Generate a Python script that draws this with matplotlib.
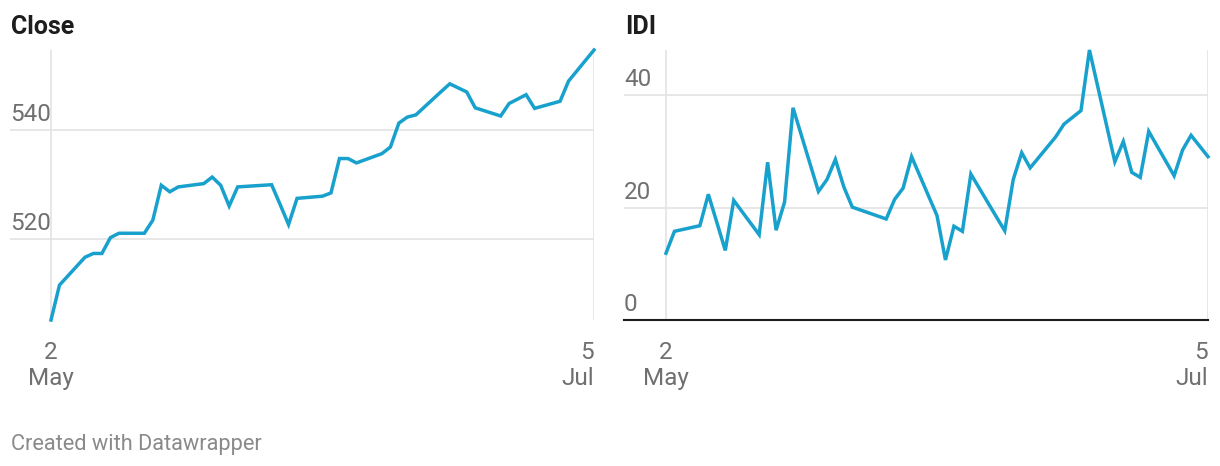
import matplotlib
matplotlib.use("Agg")
import matplotlib.pyplot as plt
import matplotlib.dates as mdates
import matplotlib.transforms as mtransforms
import pandas as pd

# trading days, 2 May - 5 Jul 2024
dates = [
    "2024-05-02", "2024-05-03", "2024-05-06", "2024-05-07", "2024-05-08",
    "2024-05-09", "2024-05-10", "2024-05-13", "2024-05-14", "2024-05-15",
    "2024-05-16", "2024-05-17", "2024-05-20", "2024-05-21", "2024-05-22",
    "2024-05-23", "2024-05-24", "2024-05-28", "2024-05-29", "2024-05-30",
    "2024-05-31", "2024-06-03", "2024-06-04", "2024-06-05", "2024-06-06",
    "2024-06-07", "2024-06-10", "2024-06-11", "2024-06-12", "2024-06-13",
    "2024-06-14", "2024-06-17", "2024-06-18", "2024-06-20", "2024-06-21",
    "2024-06-24", "2024-06-25", "2024-06-26", "2024-06-27", "2024-06-28",
    "2024-07-01", "2024-07-02", "2024-07-03", "2024-07-05",
]

close = [
    505.1, 511.5, 516.6, 517.3, 517.3, 520.2, 521.0, 521.0, 523.4, 529.8,
    528.6, 529.5, 530.1, 531.3, 529.8, 526.0, 529.5, 529.9, 526.3, 522.6,
    527.4, 527.8, 528.4, 534.7, 534.7, 533.9, 535.6, 536.8, 541.2, 542.3,
    542.7, 547.0, 548.4, 546.9, 544.0, 542.5, 544.8, 545.6, 546.4, 543.9,
    545.2, 548.9, 550.8, 554.6,
]

idi = [
    11.9, 15.8, 16.8, 22.4, 17.4, 12.4, 21.3, 15.2, 28.1, 16.0,
    21.0, 37.8, 22.9, 25.0, 28.6, 23.7, 20.1, 18.0, 21.5, 23.5,
    29.1, 18.6, 10.7, 16.7, 15.8, 26.0, 18.4, 15.9, 25.0, 29.8,
    27.1, 32.6, 34.9, 37.3, 48.1, 28.2, 31.8, 26.3, 25.4, 33.6,
    25.7, 30.3, 32.9, 29.1,
]

close_ticks = [520, 540]
idi_ticks = [0, 20, 40]
x_tick_labels = ["2\nMay", "5\nJul"]

LINE = "#18a1cd"
GRID = "#e3e3e3"
TICK_TXT = "#707070"
TITLE_TXT = "#1d1d1d"
FONT = "Roboto"

W, H = 1220, 466
plt.rcParams["font.family"] = [FONT, "DejaVu Sans"]

fig = plt.figure(figsize=(W / 100, H / 100), dpi=100)
x = pd.to_datetime(dates)


def make_panel(ax_left, x0, x1, values, yticks, title, baseline=False):
    top, bottom = 50, 320
    ax = fig.add_axes([ax_left / W, 1 - bottom / H, (x1 - ax_left) / W, (bottom - top) / H])
    ax.plot(x, values, color=LINE, lw=2.5, clip_on=False, solid_joinstyle="miter", zorder=3)

    d0 = mdates.date2num(x[0])
    d1 = mdates.date2num(x[-1])
    ppd = (x1 - x0) / (d1 - d0)
    ax.set_xlim(d0 - (x0 - ax_left) / ppd, d1)
    ax.set_ylim(0 if baseline else min(values), max(values))

    for s in ax.spines.values():
        s.set_visible(False)

    ax.set_yticks(yticks)
    ax.set_xticks([x[0], x[-1]])
    ax.set_xticklabels(x_tick_labels, fontsize=17.5, color=TICK_TXT, linespacing=1.2)
    labels = ax.get_xticklabels()
    labels[0].set_ha("center")
    labels[1].set_ha("right")
    ax.tick_params(axis="both", length=0, labelleft=False)
    ax.tick_params(axis="x", pad=15)
    ax.grid(True, color=GRID, lw=1.2, zorder=0)

    trans = mtransforms.offset_copy(ax.get_yaxis_transform(), fig=fig, x=0, y=9, units="dots")
    for v in yticks:
        ax.text(0, v, str(v), transform=trans, fontsize=17.5, color=TICK_TXT,
                ha="left", va="baseline")

    if baseline:
        ax.axhline(0, color=TITLE_TXT, lw=1.5, zorder=2, clip_on=False)

    fig.text((ax_left + 1) / W, 1 - 34 / H, title, fontsize=18, fontweight="bold",
             color=TITLE_TXT, ha="left", va="baseline")
    return ax


make_panel(10, 51, 594, close, close_ticks, "Close")
make_panel(624, 666, 1208, idi, idi_ticks, "IDI", baseline=True)

fig.text(11 / W, 1 - 450 / H, "Created with Datawrapper", fontsize=15.7, color="#8a8a8a",
         ha="left", va="baseline")

fig.savefig("out.png", dpi=100, facecolor="white")
